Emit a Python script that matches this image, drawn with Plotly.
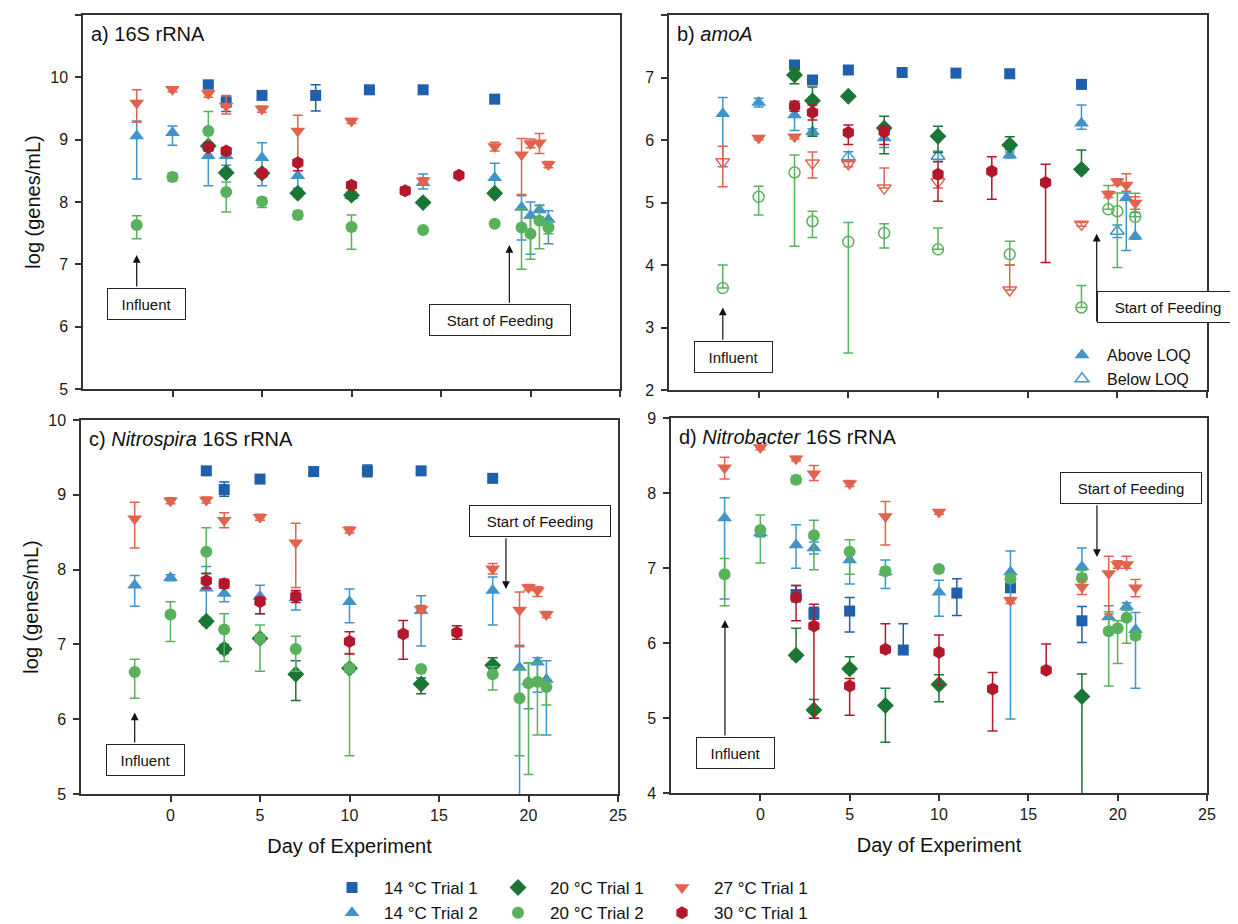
import plotly.graph_objects as go

# the page body adds an 8 px margin: the figure is drawn from (8, 8)
OFF = 8
W, H = 1238 - OFF, 924 - OFF
FONT = "Arial, 'Liberation Sans', sans-serif"

SERIES = ["14 °C Trial 1", "14 °C Trial 2", "20 °C Trial 1",
          "20 °C Trial 2", "27 °C Trial 1", "30 °C Trial 1"]
X_TICKS = [0, 5, 10, 15, 20, 25]
X_TITLE = "Day of Experiment"
Y_TITLE = "log (genes/mL)"

# ---------------- data: rows (day, mean log, err_up, err_down) ----------------
# a) 16S rRNA
A_14T1 = [(2, 9.88, 0.04, 0.04), (3, 9.60, 0.10, 0.15), (5, 9.71, 0.05, 0.05),
          (8, 9.71, 0.17, 0.25), (11, 9.80, 0.03, 0.03), (14, 9.80, 0.04, 0.04),
          (18, 9.65, 0.04, 0.04)]
A_14T2 = [(-2, 9.06, 0.24, 0.69), (0, 9.11, 0.11, 0.20), (2, 8.74, 0.20, 0.48),
          (3, 8.74, 0.10, 0.15), (5, 8.71, 0.24, 0.45), (7, 8.42, 0.20, 0.20),
          (10, 8.10, 0.05, 0.05), (14, 8.31, 0.14, 0.10), (18, 8.39, 0.23, 0.27),
          (19.5, 7.91, 0.19, 0.52), (20, 7.78, 0.22, 0.62), (20.5, 7.87, 0.08, 0.20),
          (21, 7.72, 0.14, 0.39)]
A_20T1 = [(2, 8.90, 0.05, 0.05), (3, 8.47, 0.05, 0.05), (5, 8.46, 0.05, 0.05),
          (7, 8.14, 0.05, 0.05), (10, 8.11, 0.05, 0.05), (14, 7.99, 0.04, 0.04),
          (18, 8.14, 0.05, 0.05)]
A_20T2 = [(-2, 7.63, 0.15, 0.22), (0, 8.40, 0.06, 0.06), (2, 9.14, 0.31, 0.25),
          (3, 8.16, 0.16, 0.32), (5, 8.01, 0.06, 0.10), (7, 7.79, 0.06, 0.06),
          (10, 7.60, 0.19, 0.36), (14, 7.55, 0.04, 0.04), (18, 7.65, 0.04, 0.04),
          (19.5, 7.59, 0.30, 0.67), (20, 7.49, 0.25, 0.41), (20.5, 7.70, 0.24, 0.45),
          (21, 7.59, 0.10, 0.10)]
A_27T1 = [(-2, 9.59, 0.21, 0.31), (0, 9.81, 0.04, 0.04), (2, 9.74, 0.06, 0.06),
          (3, 9.54, 0.17, 0.13), (5, 9.49, 0.05, 0.05), (7, 9.14, 0.25, 0.50),
          (10, 9.30, 0.04, 0.04), (14, 8.34, 0.05, 0.05), (18, 8.89, 0.07, 0.07),
          (19.5, 8.76, 0.26, 0.64), (20, 8.94, 0.07, 0.07), (20.5, 8.95, 0.15, 0.17),
          (21, 8.60, 0.05, 0.05)]
A_30T1 = [(2, 8.88, 0.06, 0.06), (3, 8.82, 0.05, 0.05), (5, 8.46, 0.06, 0.06),
          (7, 8.63, 0.05, 0.13), (10, 8.27, 0.05, 0.05), (13, 8.18, 0.06, 0.06),
          (16, 8.43, 0.04, 0.04)]

# b) amoA  rows (day, mean log, err_up, err_down, above LOQ 1/0)
B_14T1 = [(2, 7.20, 0.03, 0.03, 1), (3, 6.96, 0.03, 0.03, 1), (5, 7.12, 0.04, 0.04, 1),
          (8, 7.08, 0.04, 0.04, 1), (11, 7.07, 0.04, 0.04, 1), (14, 7.06, 0.04, 0.04, 1),
          (18, 6.89, 0.04, 0.04, 1)]
B_14T2 = [(-2, 6.42, 0.26, 0.85, 1), (0, 6.60, 0.07, 0.07, 1), (2, 6.40, 0.12, 0.25, 1),
          (3, 6.13, 0.05, 0.05, 1), (5, 5.73, 0.08, 0.08, 0), (7, 6.03, 0.10, 0.15, 1),
          (10, 5.74, 0.08, 0.08, 0), (14, 5.76, 0.05, 0.05, 1), (18, 6.27, 0.29, 0.10, 1),
          (20, 4.54, 0.10, 0.10, 0), (20.5, 5.07, 0.08, 0.84, 1), (21, 4.46, 0.38, 0.05, 1)]
B_20T1 = [(2, 7.04, 0.10, 0.14, 1), (3, 6.63, 0.22, 0.57, 1), (5, 6.70, 0.04, 0.04, 1),
          (7, 6.19, 0.19, 0.41, 1), (10, 6.06, 0.16, 0.26, 1), (14, 5.92, 0.13, 0.07, 1),
          (18, 5.53, 0.31, 0.05, 1)]
B_20T2 = [(-2, 3.63, 0.37, 0.0, 0), (0, 5.09, 0.17, 0.29, 0), (2, 5.48, 0.28, 1.18, 0),
          (3, 4.70, 0.16, 0.26, 0), (5, 4.37, 0.31, 1.78, 0), (7, 4.51, 0.15, 0.24, 0),
          (10, 4.25, 0.34, 0.0, 0), (14, 4.17, 0.21, 0.17, 0), (18, 3.32, 0.35, 0.0, 0),
          (19.5, 4.89, 0.38, 0.0, 0), (20, 4.86, 0.29, 0.90, 0), (21, 4.77, 0.38, 0.0, 0)]
B_27T1 = [(-2, 5.65, 0.25, 0.40, 0), (0, 6.03, 0.03, 0.03, 1), (2, 6.05, 0.03, 0.03, 1),
          (3, 5.63, 0.18, 0.24, 0), (5, 5.62, 0.05, 0.05, 0), (7, 5.23, 0.32, 0.0, 0),
          (10, 5.33, 0.10, 0.10, 0), (14, 3.60, 0.40, 0.0, 0), (18, 4.65, 0.03, 0.03, 0),
          (19.5, 5.13, 0.05, 0.05, 1), (20, 5.33, 0.05, 0.05, 1), (20.5, 5.28, 0.18, 0.10, 1),
          (21, 4.99, 0.10, 0.10, 1)]
B_30T1 = [(2, 6.54, 0.08, 0.08, 1), (3, 6.44, 0.12, 0.12, 1), (5, 6.12, 0.12, 0.19, 1),
          (7, 6.13, 0.10, 0.20, 1), (10, 5.45, 0.20, 0.43, 1), (13, 5.50, 0.23, 0.45, 1),
          (16, 5.32, 0.29, 1.28, 1)]

# c) Nitrospira 16S rRNA
C_14T1 = [(2, 9.32, 0.04, 0.04), (3, 9.07, 0.10, 0.09), (5, 9.21, 0.04, 0.04),
          (8, 9.31, 0.06, 0.06), (11, 9.32, 0.08, 0.08), (14, 9.32, 0.04, 0.04),
          (18, 9.22, 0.04, 0.04)]
C_14T2 = [(-2, 7.79, 0.13, 0.28), (0, 7.89, 0.04, 0.04), (2, 7.75, 0.29, 0.44),
          (3, 7.68, 0.08, 0.11), (5, 7.64, 0.15, 0.23), (7, 7.62, 0.08, 0.16),
          (10, 7.57, 0.17, 0.28), (14, 7.45, 0.20, 0.47), (18, 7.72, 0.18, 0.46),
          (19.5, 6.69, 0.30, 1.80), (20, 6.50, 0.25, 0.36), (20.5, 6.76, 0.06, 0.40),
          (21, 6.53, 0.25, 0.74)]
C_20T1 = [(2, 7.31, 0.05, 0.05), (3, 6.94, 0.06, 0.06), (5, 7.08, 0.05, 0.05),
          (7, 6.60, 0.18, 0.35), (10, 6.68, 0.05, 0.05), (14, 6.47, 0.08, 0.13),
          (18, 6.72, 0.10, 0.10)]
C_20T2 = [(-2, 6.63, 0.17, 0.35), (0, 7.40, 0.17, 0.36), (2, 8.24, 0.32, 0.30),
          (3, 7.20, 0.21, 0.43), (5, 7.08, 0.18, 0.44), (7, 6.94, 0.17, 0.30),
          (10, 6.68, 0.20, 1.17), (14, 6.67, 0.04, 0.04), (18, 6.60, 0.10, 0.21),
          (19.5, 6.28, 0.40, 0.77), (20, 6.48, 0.27, 1.22), (20.5, 6.50, 0.25, 0.71),
          (21, 6.43, 0.10, 0.24)]
C_27T1 = [(-2, 8.68, 0.22, 0.39), (0, 8.92, 0.04, 0.04), (2, 8.93, 0.04, 0.04),
          (3, 8.66, 0.10, 0.10), (5, 8.70, 0.04, 0.04), (7, 8.36, 0.26, 0.60),
          (10, 8.53, 0.04, 0.04), (14, 7.47, 0.05, 0.05), (18, 8.01, 0.07, 0.07),
          (19.5, 7.46, 0.24, 0.49), (20, 7.76, 0.04, 0.04), (20.5, 7.72, 0.05, 0.08),
          (21, 7.40, 0.04, 0.04)]
C_30T1 = [(2, 7.85, 0.10, 0.10), (3, 7.81, 0.06, 0.06), (5, 7.57, 0.06, 0.16),
          (7, 7.64, 0.08, 0.08), (10, 7.04, 0.13, 0.17), (13, 7.14, 0.18, 0.34),
          (16, 7.16, 0.09, 0.09)]

# d) Nitrobacter 16S rRNA
D_14T1 = [(2, 6.65, 0.12, 0.10), (3, 6.40, 0.08, 0.08), (5, 6.43, 0.18, 0.28),
          (8, 5.91, 0.35, 0.0), (11, 6.67, 0.19, 0.30), (14, 6.74, 0.05, 0.05),
          (18, 6.30, 0.19, 0.29)]
D_14T2 = [(-2, 7.67, 0.27, 1.08), (0, 7.47, 0.05, 0.05), (2, 7.31, 0.27, 0.31),
          (3, 7.27, 0.08, 0.08), (5, 7.11, 0.10, 0.32), (7, 6.95, 0.16, 0.22),
          (10, 6.68, 0.16, 0.32), (14, 6.95, 0.28, 1.96), (18, 7.02, 0.25, 0.10),
          (19.5, 6.35, 0.15, 0.15), (20.5, 6.49, 0.05, 0.05), (21, 6.18, 0.23, 0.78)]
D_20T1 = [(2, 5.84, 0.36, 0.05), (3, 5.11, 0.14, 0.11), (5, 5.66, 0.16, 0.05),
          (7, 5.17, 0.23, 0.49), (10, 5.45, 0.13, 0.23), (18, 5.29, 0.30, 1.50)]
D_20T2 = [(-2, 6.92, 0.21, 0.42), (0, 7.51, 0.20, 0.44), (2, 8.18, 0.05, 0.05),
          (3, 7.44, 0.20, 0.46), (5, 7.22, 0.16, 0.30), (7, 6.96, 0.05, 0.05),
          (10, 6.99, 0.04, 0.04), (14, 6.86, 0.05, 0.05), (18, 6.87, 0.10, 0.10),
          (19.5, 6.16, 0.26, 0.73), (20, 6.20, 0.10, 0.47), (20.5, 6.34, 0.10, 0.34),
          (21, 6.10, 0.05, 0.05)]
D_27T1 = [(-2, 8.34, 0.14, 0.15), (0, 8.61, 0.03, 0.03), (2, 8.46, 0.03, 0.03),
          (3, 8.26, 0.11, 0.09), (5, 8.13, 0.04, 0.04), (7, 7.69, 0.20, 0.38),
          (10, 7.75, 0.03, 0.03), (14, 6.57, 0.04, 0.04), (18, 6.75, 0.10, 0.10),
          (19.5, 6.93, 0.23, 0.54), (20, 7.05, 0.05, 0.05), (20.5, 7.05, 0.11, 0.05),
          (21, 6.74, 0.11, 0.12)]
D_30T1 = [(2, 6.61, 0.16, 0.31), (3, 6.23, 0.29, 1.23), (5, 5.43, 0.10, 0.39),
          (7, 5.92, 0.34, 0.05), (10, 5.88, 0.23, 0.44), (13, 5.39, 0.22, 0.56),
          (16, 5.64, 0.35, 0.0)]

PANEL_A = [A_14T1, A_14T2, A_20T1, A_20T2, A_27T1, A_30T1]
PANEL_B = [B_14T1, B_14T2, B_20T1, B_20T2, B_27T1, B_30T1]
PANEL_C = [C_14T1, C_14T2, C_20T1, C_20T2, C_27T1, C_30T1]
PANEL_D = [D_14T1, D_14T2, D_20T1, D_20T2, D_27T1, D_30T1]

Y_RANGES = {"a": (5, 11), "b": (2, 8), "c": (5, 10), "d": (4, 9)}
TITLES = {"a": "a) 16S rRNA", "b": "b) <i>amoA</i>",
          "c": "c) <i>Nitrospira</i> 16S rRNA", "d": "d) <i>Nitrobacter</i> 16S rRNA"}

# ---------------- styles ----------------
COLORS = ["#1f5fac", "#4293c9", "#1b7634", "#5ab15d", "#e2634d", "#b3172c"]
SYMBOLS = ["square", "triangle-up", "diamond", "circle", "triangle-down", "hexagon"]
SIZES = [11, 13, 13, 12, 13, 13]
LEGEND_OF = ["legend", "legend", "legend2", "legend2", "legend3", "legend3"]

# panel plot areas in screen pixels: (left, right, top, bottom)
PX = {"a": (83, 620, 15, 389), "b": (669, 1207, 15, 390),
      "c": (81, 618, 420, 794), "d": (671, 1207, 418.3, 793.3)}
AX = {"a": ("x", "y"), "b": ("x2", "y2"), "c": ("x3", "y3"), "d": ("x4", "y4")}


def fx(px):
    return (px - OFF) / W


def fy(py):
    return 1 - (py - OFF) / H


fig = go.Figure()


def add_series(rows, i, panel, showlegend, loq=False):
    xa, ya = AX[panel]
    groups = []
    if loq:
        above = [r for r in rows if r[4] == 1]
        below = [r for r in rows if r[4] == 0]
        if above:
            groups.append((above, SYMBOLS[i]))
        if below:
            groups.append((below, SYMBOLS[i] + "-open"))
    else:
        groups.append((rows, SYMBOLS[i]))
    first = True
    for grp, sym in groups:
        is_open = sym.endswith("-open")
        fig.add_trace(go.Scatter(
            x=[r[0] for r in grp], y=[r[1] for r in grp],
            mode="markers", name=SERIES[i], xaxis=xa, yaxis=ya,
            legend=LEGEND_OF[i], showlegend=showlegend and first,
            marker=dict(symbol=sym, size=SIZES[i] - (1 if is_open else 0),
                        color=COLORS[i],
                        line=dict(width=1.5 if is_open else 0, color=COLORS[i])),
            error_y=dict(type="data", symmetric=False,
                         array=[r[2] for r in grp], arrayminus=[r[3] for r in grp],
                         color=COLORS[i], thickness=1.5, width=5),
        ))
        first = False


for i, rows in enumerate(PANEL_A):
    add_series(rows, i, "a", True)
for i, rows in enumerate(PANEL_B):
    add_series(rows, i, "b", False, loq=True)
for i, rows in enumerate(PANEL_C):
    add_series(rows, i, "c", False)
for i, rows in enumerate(PANEL_D):
    add_series(rows, i, "d", False)

# LOQ key for panel b
fig.add_trace(go.Scatter(x=[None], y=[None], xaxis="x2", yaxis="y2", mode="markers",
                         name="Above LOQ", legend="legend4",
                         marker=dict(symbol="triangle-up", size=13, color=COLORS[1])))
fig.add_trace(go.Scatter(x=[None], y=[None], xaxis="x2", yaxis="y2", mode="markers",
                         name="Below LOQ", legend="legend4",
                         marker=dict(symbol="triangle-up-open", size=12, color=COLORS[1],
                                     line=dict(width=1.5, color=COLORS[1]))))

AXLINE = "#333333"
TICKFONT = dict(family=FONT, size=16, color="#1a1a1a")
layout = dict(width=W, height=H, margin=dict(l=0, r=0, t=0, b=0, autoexpand=False),
              paper_bgcolor="white", plot_bgcolor="white",
              font=dict(family=FONT, color="#111"))

for p, (xa, ya) in AX.items():
    l, r, t, b = PX[p]
    xkey = "xaxis" + xa[1:]
    ykey = "yaxis" + ya[1:]
    lo, hi = Y_RANGES[p]
    bottom_row = p in ("c", "d")
    layout[xkey] = dict(
        domain=[fx(l), fx(r)], anchor=ya, range=[-5, 25], tickvals=X_TICKS,
        ticks="outside", ticklen=6, tickwidth=1.5, tickcolor=AXLINE,
        showline=True, linecolor=AXLINE, linewidth=1.5, mirror=True,
        showgrid=False, zeroline=False, showticklabels=bottom_row,
        tickfont=TICKFONT, ticklabelstandoff=0,
        title=dict(text=X_TITLE if bottom_row else "",
                   font=dict(family=FONT, size=20, color="#111"), standoff=16))
    layout[ykey] = dict(
        domain=[fy(b), fy(t)], anchor=xa, range=[lo, hi],
        tickvals=list(range(lo, hi + 1)),
        ticks="outside", ticklen=6, tickwidth=1.5, tickcolor=AXLINE,
        showline=True, linecolor=AXLINE, linewidth=1.5, mirror=True,
        showgrid=False, zeroline=False, tickfont=TICKFONT, ticklabelstandoff=4,
        title=dict(text=Y_TITLE if p in ("a", "c") else "",
                   font=dict(family=FONT, size=20, color="#111"), standoff=4))

annotations = []
for p, (xa, ya) in AX.items():
    l, r, t, b = PX[p]
    annotations.append(dict(
        text=TITLES[p], xref=xa + " domain", yref=ya + " domain",
        x=6 / (r - l), y=1 - 19 / (b - t), xanchor="left", yanchor="middle",
        showarrow=False, font=dict(family=FONT, size=20, color="#111")))


def box(text, xa, ya, x, y, w):
    annotations.append(dict(
        text=text, xref=xa, yref=ya, x=x, y=y, xanchor="center", yanchor="middle",
        showarrow=False, width=w, height=26, borderpad=2, borderwidth=1,
        bordercolor="#222", bgcolor="white",
        font=dict(family=FONT, size=15, color="#111")))


def arrow(xa, ya, x, y_tail, y_head):
    annotations.append(dict(
        text="", xref=xa, yref=ya, axref=xa, ayref=ya, x=x, y=y_head, ax=x, ay=y_tail,
        showarrow=True, arrowhead=2, arrowsize=1.3, arrowwidth=1.2, arrowcolor="#111"))


# panel a
arrow("x", "y", -2, 6.62, 7.15)
box("Influent", "x", "y", -1.45, 6.36, 73)
arrow("x", "y", 18.82, 6.36, 7.31)
box("Start of Feeding", "x", "y", 18.30, 6.11, 136)
# panel b
arrow("x2", "y2", -2, 2.78, 3.32)
box("Influent", "x2", "y2", -1.41, 2.53, 73)
arrow("x2", "y2", 18.85, 3.07, 4.50)
box("Start of Feeding", "x2", "y2", 22.83, 3.33, 136)
# panel c
arrow("x3", "y3", -2, 5.67, 6.09)
box("Influent", "x3", "y3", -1.42, 5.45, 73)
arrow("x3", "y3", 18.74, 8.44, 7.74)
box("Start of Feeding", "x3", "y3", 20.67, 8.65, 136)
# panel d
arrow("x4", "y4", -1.98, 4.75, 6.31)
box("Influent", "x4", "y4", -1.41, 4.54, 73)
arrow("x4", "y4", 18.84, 7.86, 7.15)
box("Start of Feeding", "x4", "y4", 20.74, 8.07, 136)

layout["annotations"] = annotations

LEG = dict(orientation="v", xanchor="left", yanchor="top", bgcolor="rgba(0,0,0,0)",
           font=dict(family=FONT, size=17, color="#111"), itemwidth=54,
           tracegroupgap=0)
layout["legend"] = dict(LEG, x=fx(320), y=fy(870))
layout["legend2"] = dict(LEG, x=fx(486), y=fy(870))
layout["legend3"] = dict(LEG, x=fx(650), y=fy(870))
layout["legend4"] = dict(LEG, x=fx(1057), y=fy(338),
                         font=dict(family=FONT, size=16, color="#111"), itemwidth=40)

fig.update_layout(**layout)
fig.write_html("out.html")
